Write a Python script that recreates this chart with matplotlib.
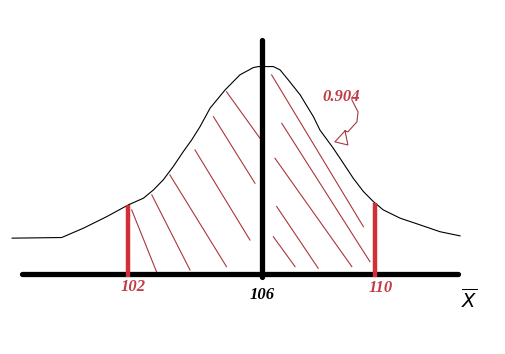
import matplotlib.pyplot as plt
import numpy as np

# hand drawn sampling distribution of x-bar (heights relative to the peak)
curve_x = [98.54, 100.02, 100.67, 101.36, 102.01, 102.46, 102.76, 103.05, 103.35,
           103.65, 103.90, 104.15, 104.45, 104.90, 105.34, 105.74, 105.89, 106.40,
           106.64, 106.93, 107.35, 107.82, 108.05, 108.52, 108.88, 109.23, 109.59,
           109.94, 110.29, 110.89, 111.59, 112.30, 113.01]
curve_h = [0.172, 0.175, 0.220, 0.275, 0.332, 0.364, 0.404, 0.452, 0.516,
           0.588, 0.644, 0.708, 0.797, 0.885, 0.957, 0.992, 0.997, 0.997,
           0.981, 0.933, 0.861, 0.756, 0.692, 0.605, 0.532, 0.460, 0.396,
           0.348, 0.308, 0.268, 0.236, 0.203, 0.183]

mean = 106
limits = [102, 110]
prob = '0.904'
axis_range = [98.84, 112.94]

# shading strokes (x0, h0, x1, h1)
strokes = [
    (102.11, 0.308, 102.85, 0.011),
    (102.71, 0.380, 103.85, 0.019),
    (103.25, 0.476, 104.94, 0.035),
    (104.00, 0.596, 105.64, 0.163),
    (104.55, 0.756, 105.79, 0.436),
    (104.94, 0.876, 105.94, 0.652),
    (106.34, 0.957, 109.59, 0.227),
    (106.70, 0.724, 109.82, 0.059),
    (106.46, 0.556, 109.18, 0.035),
    (106.52, 0.324, 107.99, 0.027),
    (106.40, 0.179, 107.17, 0.035),
]

# little pointer from the probability label
arrow_x = [109.18, 109.40, 109.36, 109.04, 108.94, 108.58, 109.04, 108.94]
arrow_h = [0.837, 0.779, 0.731, 0.683, 0.688, 0.635, 0.620, 0.688]

# the paint drawing is not evenly spaced, so map values to a hand scale
knots_v = [90, 102, 106, 110, 125]
knots_p = [-274, 128, 262, 375, 798.75]


def fwd(v):
    return np.interp(v, knots_v, knots_p)


def inv(p):
    return np.interp(p, knots_p, knots_v)


fig = plt.figure(figsize=(5.05, 3.54), dpi=100)
ax = fig.add_axes([0, 0, 1, 1])
ax.set_xscale('function', functions=(fwd, inv))
ax.set_xlim(inv(0), inv(505))
ax.set_ylim(-0.385, 1.317)
ax.axis('off')

stroke_col = '#a8383c'
bar_col = '#d32f36'
txt_col = '#c23a46'

ax.plot(curve_x, curve_h, color='black', lw=0.8)

for x0, h0, x1, h1 in strokes:
    ax.plot([x0, x1], [h0, h1], color=stroke_col, lw=0.8)

ax.plot(axis_range, [0, 0], color='black', lw=3.8, solid_capstyle='round')
ax.plot([mean, mean], [-0.015, 1.125], color='black', lw=3.8, solid_capstyle='round')

for lim in limits:
    top = np.interp(lim, curve_x, curve_h)
    ax.plot([lim, lim], [-0.015, top], color=bar_col, lw=3.2, solid_capstyle='butt')

ax.plot(arrow_x, arrow_h, color=stroke_col, lw=0.8)

font = dict(family='Liberation Serif', style='italic', weight='bold', fontsize=12)
ax.annotate(str(limits[0]), (limits[0], 0), xytext=(3.6, -9.5), textcoords='offset points',
            ha='center', va='center', color=txt_col, **font)
ax.annotate(str(limits[1]), (limits[1], 0), xytext=(4.3, -10.2), textcoords='offset points',
            ha='center', va='center', color=txt_col, **font)
ax.annotate(str(mean), (mean, 0), xytext=(0, -15), textcoords='offset points',
            ha='center', va='center', color='black', **font)
ax.text(108.79, 0.851, prob, ha='center', va='center', color=txt_col, **font)

ax.text(113.33, -0.125, r'$\overline{X}$', ha='center', va='center',
        fontsize=14, color='black')

fig.savefig('out.png', dpi=100)
